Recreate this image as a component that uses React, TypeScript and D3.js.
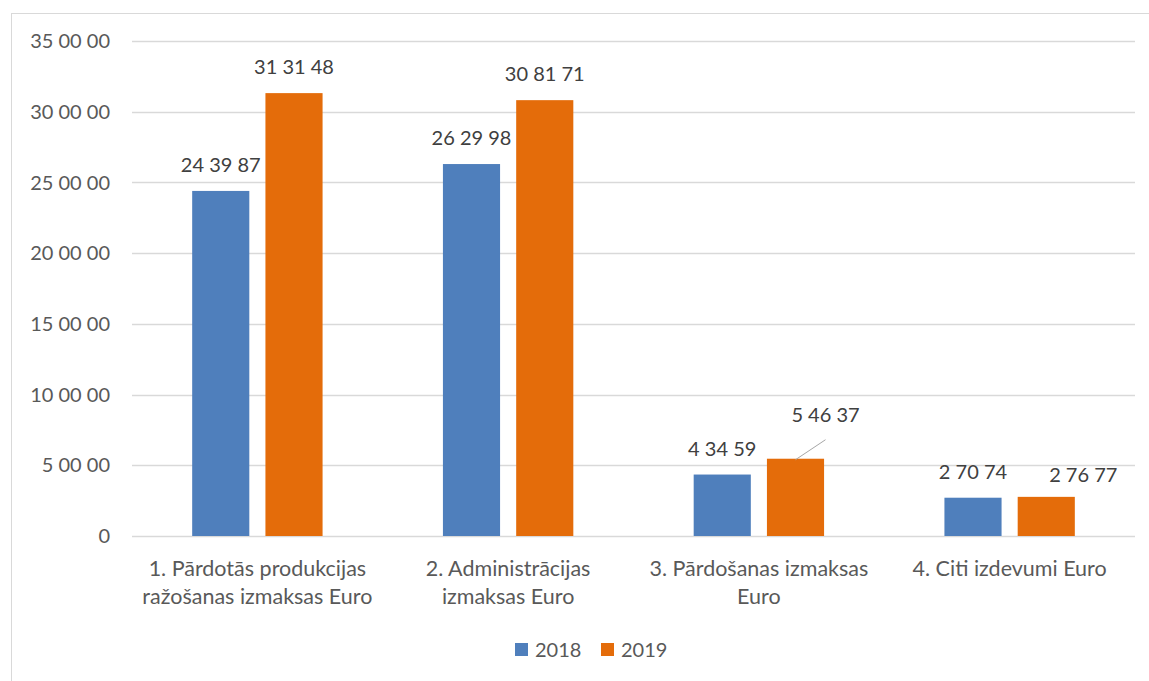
import { useEffect, useRef } from "react";
import * as d3 from "d3";

// chart values
const categories: string[][] = [
  ["1. Pārdotās produkcijas", "ražošanas izmaksas Euro"],
  ["2. Administrācijas", "izmaksas Euro"],
  ["3. Pārdošanas izmaksas", "Euro"],
  ["4. Citi izdevumi Euro"],
];
const series = ["2018", "2019"];
const values2018 = [243987, 262998, 43459, 27074];
const values2019 = [313148, 308171, 54637, 27677];
const yTicks = [0, 50000, 100000, 150000, 200000, 250000, 300000, 350000];

const colors = ["#4f7fbc", "#e46c0a"];
const textColor = "#595959";
const font = "Lato, 'Open Sans', sans-serif";

// Excel-like grouping: digits in pairs from the right
const fmt = (v: number) => {
  const s = String(v);
  const parts: string[] = [];
  for (let i = s.length; i > 0; i -= 2) parts.unshift(s.slice(Math.max(0, i - 2), i));
  return parts.join(" ");
};

const App = () => {
  const ref = useRef<SVGSVGElement>(null);

  useEffect(() => {
    const svg = d3.select(ref.current);
    svg.selectAll("*").remove();

    const width = 1149;
    const height = 681;
    const plot = { left: 132, right: 1135, top: 41, bottom: 536 };

    // outer chart frame
    svg
      .append("rect")
      .attr("x", 11.5)
      .attr("y", 13.5)
      .attr("width", width)
      .attr("height", height)
      .attr("fill", "#fff")
      .attr("stroke", "#d9d9d9");

    const x0 = d3
      .scaleBand<number>()
      .domain(categories.map((_, i) => i))
      .range([plot.left, plot.right])
      .padding(0);

    const groupW = x0.bandwidth() * 0.52;
    const x1 = d3
      .scaleBand<number>()
      .domain(series.map((_, i) => i))
      .range([(x0.bandwidth() - groupW) / 2, (x0.bandwidth() + groupW) / 2])
      .paddingInner(0.22);

    const y = d3.scaleLinear().domain([0, 350000]).range([plot.bottom, plot.top]);

    // gridlines + y labels
    const grid = svg.append("g");
    grid
      .selectAll("line")
      .data(yTicks)
      .enter()
      .append("line")
      .attr("x1", plot.left)
      .attr("x2", plot.right)
      .attr("y1", (d) => Math.round(y(d)) + 0.5)
      .attr("y2", (d) => Math.round(y(d)) + 0.5)
      .attr("stroke", "#d9d9d9")
      .attr("stroke-width", 1.3);

    grid
      .selectAll("text")
      .data(yTicks)
      .enter()
      .append("text")
      .attr("x", 110)
      .attr("y", (d) => y(d))
      .attr("dy", "0.36em")
      .attr("text-anchor", "end")
      .attr("fill", textColor)
      .style("font", `20px ${font}`)
      .text((d) => fmt(d));

    const seriesValues = [values2018, values2019];

    // bars
    seriesValues.forEach((vals, s) => {
      svg
        .append("g")
        .selectAll("rect")
        .data(vals)
        .enter()
        .append("rect")
        .attr("x", (_, i) => x0(i)! + x1(s)!)
        .attr("y", (d) => y(d))
        .attr("width", x1.bandwidth())
        .attr("height", (d) => y(0) - y(d))
        .attr("fill", colors[s]);
    });

    // data labels; a couple are nudged like in the original
    const nudge: Record<string, [number, number]> = {
      "1-2": [30, -18],
      "1-3": [37, 4],
    };
    seriesValues.forEach((vals, s) => {
      vals.forEach((v, i) => {
        const cx = x0(i)! + x1(s)! + x1.bandwidth() / 2;
        const top = y(v);
        const [dx, dy] = nudge[`${s}-${i}`] || [0, 0];
        if (s === 1 && i === 2) {
          svg
            .append("line")
            .attr("x1", cx)
            .attr("y1", top + 1)
            .attr("x2", cx + dx)
            .attr("y2", top - 19)
            .attr("stroke", "#a6a6a6")
            .attr("stroke-width", 1);
        }
        svg
          .append("text")
          .attr("x", cx + dx)
          .attr("y", top - 19 + dy)
          .attr("text-anchor", "middle")
          .attr("fill", "#404040")
          .style("font", `20px ${font}`)
          .text(fmt(v));
      });
    });

    // category labels
    categories.forEach((lines, i) => {
      const t = svg
        .append("text")
        .attr("x", x0(i)! + x0.bandwidth() / 2)
        .attr("y", 576)
        .attr("text-anchor", "middle")
        .attr("fill", textColor)
        .style("font", `21.5px ${font}`);
      lines.forEach((ln, k) => {
        t.append("tspan")
          .attr("x", x0(i)! + x0.bandwidth() / 2)
          .attr("dy", k === 0 ? 0 : 28)
          .text(ln);
      });
    });

    // legend
    const legend = svg.append("g").attr("transform", "translate(515,650)");
    series.forEach((name, s) => {
      const g = legend.append("g").attr("transform", `translate(${s * 86},0)`);
      g.append("rect")
        .attr("x", 0)
        .attr("y", -7)
        .attr("width", 13)
        .attr("height", 13)
        .attr("fill", colors[s]);
      g.append("text")
        .attr("x", 20)
        .attr("y", 0)
        .attr("dy", "0.36em")
        .attr("fill", textColor)
        .style("font", `20px ${font}`)
        .text(name);
    });
  }, []);

  return (
    <svg
      ref={ref}
      width={1149}
      height={681}
      style={{ position: "absolute", left: 0, top: 0, display: "block", background: "#fff" }}
    />
  );
};

export default App;
